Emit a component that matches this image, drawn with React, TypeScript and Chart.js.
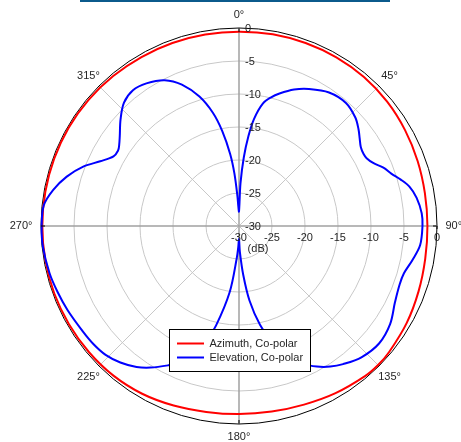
import React, { useEffect, useRef } from "react";
import { Chart, registerables } from "chart.js";

Chart.register(...registerables);

// ---- data ----
const seriesNames = ["Azimuth, Co-polar", "Elevation, Co-polar"];

// Azimuth co-polar pattern (angle in degrees, level in dB)
const azimuthAngles = [0, 10, 20, 30, 40, 50, 60, 70, 80, 90, 100, 110, 120, 130, 135, 140, 150, 160, 170, 180, 190, 200, 210, 220, 230, 240, 250, 260, 270, 280, 290, 300, 310, 320, 330, 340, 350];
const azimuthDb = [-0.55, -0.5, -0.5, -0.5, -0.55, -0.7, -0.95, -1.2, -1.4, -1.45, -1.35, -1.05, -0.65, -0.3, -0.2, -0.3, -0.75, -1.2, -1.45, -1.5, -1.4, -1.05, -0.65, -0.4, -0.3, -0.25, -0.2, -0.2, -0.2, -0.2, -0.2, -0.2, -0.25, -0.35, -0.45, -0.5, -0.55];

// Elevation co-polar pattern (angle in degrees, level in dB)
const elevationAngles = [0, 2, 4, 6, 8, 11, 14, 17, 22, 27, 34, 41, 47, 51, 54, 57, 60, 62, 65, 68, 71, 74, 77, 81, 86, 90, 96, 101, 106, 110, 116, 123, 130, 137, 143, 147, 151, 155, 160, 164, 168, 172, 175, 178, 180, 182, 184, 188, 193, 196, 200, 204, 207, 212, 216, 221, 226, 231, 236, 244, 250, 256, 264, 270, 276, 281, 286, 291, 295, 299, 302, 304, 307, 312, 317, 322, 327, 333, 338, 343, 347, 350, 353, 355, 357, 358];
const elevationDb = [-27.8, -23.5, -19.6, -16.3, -13.6, -11.1, -9.9, -9.0, -7.7, -6.7, -5.6, -5.3, -5.9, -6.7, -7.4, -8.0, -8.2, -8.1, -7.5, -6.4, -5.6, -4.5, -3.5, -2.75, -2.25, -2.2, -2.4, -3.2, -4.0, -4.1, -3.7, -2.7, -2.3, -2.8, -3.8, -4.6, -5.65, -7.0, -9.3, -11.8, -14.7, -18.6, -22.5, -26.0, -28.0, -26.8, -25.1, -19.9, -14.5, -11.8, -9.2, -7.3, -6.3, -4.7, -3.6, -2.6, -1.9, -1.6, -1.45, -1.06, -0.75, -0.42, -0.12, -0.1, -0.25, -1.33, -2.85, -4.8, -6.8, -8.26, -8.4, -8.1, -7.38, -5.85, -4.45, -3.9, -4.24, -5.2, -6.9, -9.5, -12.4, -15.4, -19.0, -22.0, -25.5, -27.0];

// axis ticks
const radialTicks = [0, -5, -10, -15, -20, -25, -30];
const radialUnit = "(dB)";
const angleTicks = [0, 45, 90, 135, 180, 225, 270, 315];
const angleTickLabels = ["0°", "45°", "90°", "135°", "180°", "225°", "270°", "315°"];

const DEGREES = 360;
const angleLabels = Array.from({ length: DEGREES }, (_, i) => `${i}°`);

function toSeries(angles: number[], values: number[]) {
  const arr: (number | null)[] = new Array(DEGREES).fill(null);
  angles.forEach((a, i) => {
    arr[a] = values[i];
  });
  return arr;
}

const FONT = '11px "Liberation Sans", Arial, Helvetica, sans-serif';
const TEXT = "#262626";

const polarDecor = {
  id: "polarDecor",
  afterDatasetsDraw(chart: any) {
    const r = chart.scales.r;
    const ctx = chart.ctx as CanvasRenderingContext2D;
    const cx = r.xCenter;
    const cy = r.yCenter;
    const R = r.drawingArea;
    const n = chart.data.labels.length;
    const idx = (deg: number) => Math.round((deg * n) / 360);

    ctx.save();
    // small black ticks at cardinal directions
    ctx.strokeStyle = "#000";
    ctx.lineWidth = 1;
    [0, 90, 180, 270].forEach((a) => {
      const p1 = r.getPointPosition(idx(a), R);
      const p2 = r.getPointPosition(idx(a), R - 4);
      ctx.beginPath();
      ctx.moveTo(p1.x, p1.y);
      ctx.lineTo(p2.x, p2.y);
      ctx.stroke();
    });
    ctx.beginPath();
    ctx.moveTo(cx + R, cy);
    ctx.lineTo(cx + R, cy + 3);
    ctx.stroke();

    ctx.font = FONT;
    ctx.fillStyle = TEXT;
    // radial tick labels along vertical axis
    ctx.textAlign = "left";
    ctx.textBaseline = "middle";
    radialTicks.forEach((v) => {
      const d = r.getDistanceFromCenterForValue(v);
      ctx.fillText(String(v), cx + 6, cy - d + 1);
    });
    // radial tick labels along horizontal axis
    ctx.textAlign = "center";
    radialTicks.forEach((v) => {
      const d = r.getDistanceFromCenterForValue(v);
      ctx.fillText(String(v), cx + d, cy + 12);
    });
    ctx.fillText(radialUnit, cx + 19, cy + 23);

    // angle labels
    angleTicks.forEach((a, i) => {
      const text = angleTickLabels[i];
      const w = ctx.measureText(text).width;
      const h = 9;
      const rad = (a * Math.PI) / 180;
      const ux = Math.abs(Math.sin(rad));
      const uy = Math.abs(Math.cos(rad));
      const ext = Math.min(ux > 1e-6 ? w / 2 / ux : Infinity, uy > 1e-6 ? h / 2 / uy : Infinity);
      const p = r.getPointPosition(idx(a), R + 8.5 + ext);
      ctx.textAlign = "center";
      ctx.textBaseline = "middle";
      ctx.fillText(text, p.x, p.y);
    });

    // legend box
    const items = chart.data.datasets.map((ds: any) => ({ label: ds.label, color: ds.borderColor }));
    const textW = Math.max(...items.map((it: any) => ctx.measureText(it.label).width));
    const padX = 7.5;
    const lineLen = 27;
    const gap = 5.5;
    const rowH = 14;
    const padY = 7;
    const boxW = Math.round(padX + lineLen + gap + textW + padX);
    const boxH = padY * 2 + rowH * items.length;
    const left = Math.round(cx - boxW / 2) + 0.5;
    const top = Math.round(cy + 103) + 0.5;
    ctx.fillStyle = "#fff";
    ctx.fillRect(left, top, boxW, boxH);
    ctx.strokeStyle = "#000";
    ctx.lineWidth = 1;
    ctx.strokeRect(left, top, boxW, boxH);
    items.forEach((it: any, i: number) => {
      const y = top + padY + rowH * (i + 0.5);
      ctx.strokeStyle = it.color;
      ctx.lineWidth = 2;
      ctx.beginPath();
      ctx.moveTo(left + padX, y);
      ctx.lineTo(left + padX + lineLen, y);
      ctx.stroke();
      ctx.fillStyle = TEXT;
      ctx.textAlign = "left";
      ctx.textBaseline = "middle";
      ctx.fillText(it.label, left + padX + lineLen + gap, y + 0.5);
    });
    ctx.restore();
  },
};

export default function App() {
  const canvasRef = useRef<HTMLCanvasElement | null>(null);

  useEffect(() => {
    if (!canvasRef.current) return;
    const chart = new Chart(canvasRef.current, {
      type: "radar",
      data: {
        labels: angleLabels,
        datasets: [
          {
            label: seriesNames[0],
            data: toSeries(azimuthAngles, azimuthDb),
            borderColor: "#ff0000",
            backgroundColor: "transparent",
            borderWidth: 2,
            pointRadius: 0,
            pointHoverRadius: 0,
            fill: false,
            spanGaps: true,
            tension: 0.33,
            order: 1,
            clip: false,
          },
          {
            label: seriesNames[1],
            data: toSeries(elevationAngles, elevationDb),
            borderColor: "#0000ff",
            backgroundColor: "transparent",
            borderWidth: 2,
            pointRadius: 0,
            pointHoverRadius: 0,
            fill: false,
            spanGaps: true,
            tension: 0.33,
            order: 0,
            clip: false,
          },
        ],
      } as any,
      options: {
        responsive: false,
        animation: false,
        events: [],
        layout: { padding: { left: 41, top: 28, right: 24, bottom: 18 } },
        plugins: {
          legend: { display: false },
          tooltip: { enabled: false },
        },
        scales: {
          r: {
            min: -30,
            max: 0,
            ticks: { stepSize: 5, display: false },
            pointLabels: { display: false },
            grid: {
              circular: true,
              color: (c: any) => (c.tick && c.tick.value === 0 ? "#000000" : "#c8c8c8"),
              lineWidth: 1,
            },
            angleLines: {
              display: true,
              color: (c: any) => {
                const deg = (c.index * 360) / DEGREES;
                if (deg % 90 === 0) return "#a0a0a0";
                if (deg % 45 === 0) return "#c8c8c8";
                return "rgba(0,0,0,0)";
              },
              lineWidth: (c: any) => {
                const deg = (c.index * 360) / DEGREES;
                if (deg % 90 === 0) return 1.5;
                if (deg % 45 === 0) return 1;
                return 0;
              },
            },
          },
        },
      } as any,
      plugins: [polarDecor],
    });
    return () => chart.destroy();
  }, []);

  return (
    <div style={{ position: "fixed", left: 0, top: 0, width: 461, height: 442, background: "#fff" }}>
      <canvas ref={canvasRef} width={461} height={442} style={{ display: "block", width: 461, height: 442 }} />
      <div style={{ position: "absolute", left: 80, top: 0, width: 310, height: 2, background: "#0b5a8c" }} />
    </div>
  );
}
